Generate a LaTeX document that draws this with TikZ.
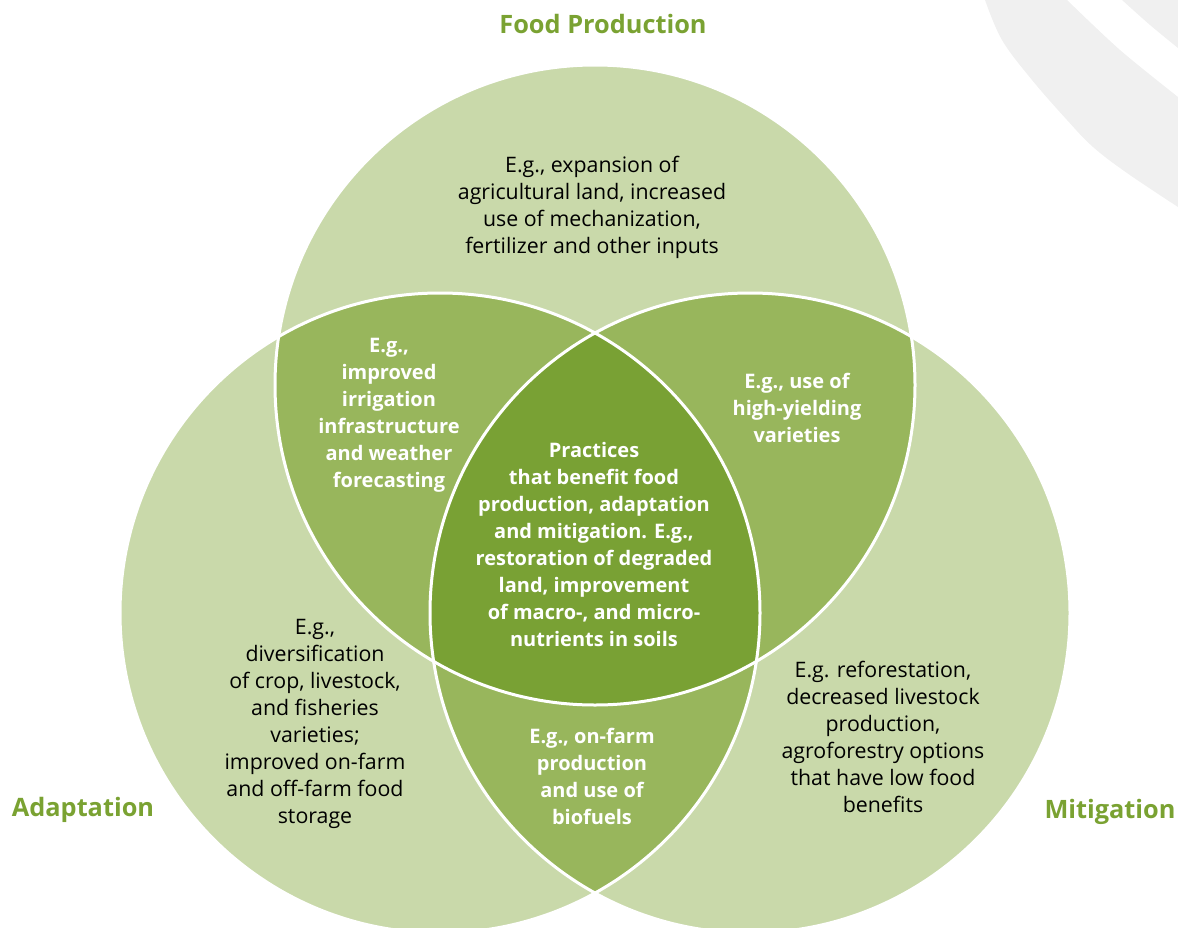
\documentclass[tikz,border=0pt]{standalone}
\usepackage{fontspec}
\setmainfont{Open Sans}
\definecolor{lightg}{HTML}{C9D9AA}
\definecolor{medg}{HTML}{98B65C}
\definecolor{darkg}{HTML}{79A134}
\definecolor{titleg}{HTML}{7AA232}
\definecolor{wmgray}{HTML}{F0F0F0}
\begin{document}
\begin{tikzpicture}[x=0.75pt,y=-0.75pt,
  body/.style={align=center,font=\fontsize{16}{20.25}\selectfont,text=black,inner sep=0pt},
  wbody/.style={align=center,font=\fontsize{15}{20.25}\selectfont\bfseries,text=white,inner sep=0pt},
  title/.style={font=\fontsize{19}{22}\selectfont\bfseries,text=titleg,inner sep=0pt},
  sep/.style={draw=white,line width=2.25pt}]
\useasboundingbox (0,0) rectangle (1178,928);
\clip (0,0) rectangle (1178,928);
\def\Ct{(595,385) circle[radius=320]}
\def\Cl{(440,613) circle[radius=320]}
\def\Cr{(750,613) circle[radius=320]}
% watermark arcs
\fill[wmgray] plot[smooth,tension=0.6] coordinates {(985,0) (1002,40) (1032,80) (1067,120) (1093,147) (1127,173) (1178,207)}
  -- (1178,97) -- plot[smooth] coordinates {(1178,97) (1120,50) (1067,0)} -- cycle;
\fill[wmgray] plot[smooth] coordinates {(1122,0) (1150,25) (1178,48)} -- (1178,0) -- cycle;
% circles
\fill[lightg] \Ct;
\fill[lightg] \Cl;
\fill[lightg] \Cr;
\begin{scope}\clip \Ct; \fill[medg] \Cl; \fill[medg] \Cr; \end{scope}
\begin{scope}\clip \Cl; \fill[medg] \Cr; \end{scope}
\begin{scope}\clip \Ct; \clip \Cl; \fill[darkg] \Cr; \end{scope}
\draw[sep] \Ct;
\draw[sep] \Cl;
\draw[sep] \Cr;
% titles
\node[title] (tfood) at (603,24) {Food Production};
\node[title] (tadapt) at (83,810) {Adaptation};
\node[title] (tmit) at (1110,812) {Mitigation};
% texts
\node[body] (food) at (592,207) {E.g., expansion of\\agricultural land, increased\\use of mechanization,\\fertilizer and other inputs};
\node[wbody] (fa) at (389,415) {E.g.,\\improved\\irrigation\\infrastructure\\and weather\\forecasting};
\node[wbody] (fm) at (797,408) {E.g., use of\\high-yielding\\varieties};
\node[wbody] (all) at (594,544) {Practices\\that benefit food\\production, adaptation\\and mitigation. E.g.,\\restoration of degraded\\land, improvement\\of macro-, and micro-\\nutrients in soils};
\node[body] (adapt) at (315,724) {E.g.,\\diversification\\of crop, livestock,\\and fisheries\\varieties;\\improved on-farm\\and off-farm food\\storage};
\node[wbody] (am) at (592,776) {E.g., on-farm\\production\\and use of\\biofuels};
\node[body] (mit) at (883,737) {E.g. reforestation,\\decreased livestock\\production,\\agroforestry options\\that have low food\\benefits};
\end{tikzpicture}
\end{document}
